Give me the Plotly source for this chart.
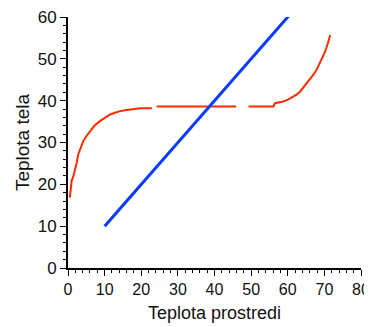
import plotly.graph_objects as go

# Blue series: Teplota tela = Teplota prostredi (reference line)
blue_x = [10, 60.5]
blue_y = [10, 60.5]

# Red series: measured body temperature vs. ambient temperature (None = gap)
red_x = [0.5, 0.8, 1.0, 1.5, 1.9, 2.4, 2.8, 3.5, 4.2, 5.0, 6.0, 7.2, 8.7, 10.0, 11.5, 12.8, 14.2, 15.6, 17.0, 19.7, 22.9,
         None, 24.2, 45.9,
         None, 49.3, 56.1, 56.5, 58.8, 60.2, 61.6, 62.5, 63.4, 64.3, 65.2, 66.1, 67.0, 68.0, 68.9, 69.6, 70.2, 70.9, 71.6]
red_y = [16.8, 19.5, 20.9, 22.0, 23.2, 25.3, 27.2, 29.0, 30.4, 31.5, 32.7, 34.0, 35.1, 35.9, 36.7, 37.1, 37.5, 37.7, 37.9, 38.2, 38.2,
         None, 38.6, 38.6,
         None, 38.6, 38.6, 39.4, 39.8, 40.3, 41.0, 41.5, 42.2, 43.2, 44.2, 45.1, 46.2, 47.6, 49.3, 50.5, 51.7, 53.6, 55.7]

x_ticks = [0, 10, 20, 30, 40, 50, 60, 70, 80]
y_ticks = [0, 10, 20, 30, 40, 50, 60]

FONT = "Liberation Sans, Arial, sans-serif"

fig = go.Figure()
fig.add_trace(go.Scatter(x=red_x, y=red_y, mode="lines", line=dict(color="#ff2a00", width=2),
                         connectgaps=False, showlegend=False))
fig.add_trace(go.Scatter(x=blue_x, y=blue_y, mode="lines", line=dict(color="#0a3cff", width=3),
                         showlegend=False))

fig.update_xaxes(range=[0, 80], tickvals=x_ticks, ticks="outside", ticklen=6, tickwidth=1, tickcolor="black",
                 showline=True, linecolor="black", linewidth=2, showgrid=False, zeroline=False, automargin=False,
                 ticklabeloverflow="allow",
                 minor=dict(dtick=2, ticks="outside", ticklen=3, tickcolor="black", tickwidth=1),
                 tickfont=dict(family=FONT, size=16, color="#111111"),
                 title=dict(text="Teplota prostredi", font=dict(family=FONT, size=18, color="#111111"), standoff=9))
fig.update_yaxes(range=[0, 60], tickvals=y_ticks, ticks="outside", ticklen=6, tickwidth=1, tickcolor="black",
                 showline=True, linecolor="black", linewidth=2, showgrid=False, zeroline=False, automargin=False,
                 ticklabeloverflow="allow",
                 minor=dict(dtick=2, ticks="outside", ticklen=3, tickcolor="black", tickwidth=1),
                 tickfont=dict(family=FONT, size=17, color="#111111"),
                 title=dict(text="Teplota tela", font=dict(family=FONT, size=19, color="#111111"), standoff=3))
fig.update_layout(width=364, height=319, margin=dict(l=60, r=11, t=9, b=59),
                  paper_bgcolor="white", plot_bgcolor="white")
fig.write_html("out.html")
